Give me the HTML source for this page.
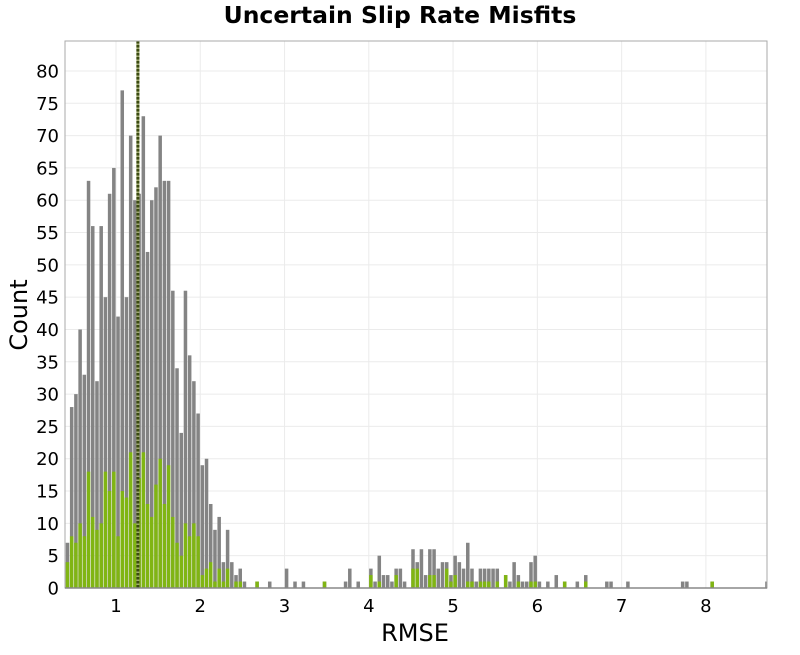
<!DOCTYPE html>
<html><head><meta charset="utf-8"><style>
body{margin:0;background:#fff;}
svg text{font-family:"DejaVu Sans","Liberation Sans",sans-serif;}
</style></head><body>
<svg id="chart" width="800" height="650" xmlns="http://www.w3.org/2000/svg">
<rect x="0" y="0" width="800" height="650" fill="#fff"/>
<text x="400" y="23" text-anchor="middle" font-size="23.5" font-weight="bold" fill="#000">Uncertain Slip Rate Misfits</text>
<g id="grid"></g>
<g id="bars"></g>
<g id="axes"></g>
<text x="415" y="641" text-anchor="middle" font-size="24" fill="#000">RMSE</text>
<text transform="translate(27,315) rotate(-90)" text-anchor="middle" font-size="24" fill="#000">Count</text>
</svg>
<script>
const binStart = 0.40, binWidth = 0.05;
const grayBins = [0,1,2,3,4,5,6,7,8,9,10,11,12,13,14,15,16,17,18,19,20,21,22,23,24,25,26,27,28,29,30,31,32,33,34,35,36,37,38,39,40,41,42,45,48,52,54,56,61,66,67,69,72,73,74,75,76,77,78,79,80,82,83,84,85,86,87,88,89,90,91,92,93,94,95,96,97,98,99,100,101,102,104,105,106,107,108,109,110,111,112,114,116,118,121,123,128,129,133,146,147,153,166];
const grayCounts = [7,28,30,40,33,63,56,32,56,45,61,65,42,77,45,70,60,61,73,52,60,62,70,63,63,46,34,24,46,36,32,27,19,20,13,9,11,4,9,4,2,3,1,1,1,3,1,1,1,1,3,1,3,1,5,2,2,1,3,3,1,6,4,6,2,6,6,3,4,4,2,5,4,3,7,3,1,3,3,3,3,3,2,1,4,2,1,1,4,5,1,1,2,1,1,2,1,1,1,1,1,1,1];
const greenBins = [0,1,2,3,4,5,6,7,8,9,10,11,12,13,14,15,16,17,18,19,20,21,22,23,24,25,26,27,28,29,30,31,32,33,34,35,36,37,38,40,41,45,61,72,74,78,82,83,86,87,90,91,92,95,96,98,99,100,102,104,107,110,111,118,123,153];
const greenCounts = [4,8,7,10,8,18,11,9,10,18,15,18,8,15,14,21,10,17,21,13,11,16,20,13,19,11,7,5,10,8,10,8,2,3,4,1,3,1,3,1,1,1,1,2,1,2,3,3,2,2,3,1,2,1,1,1,1,1,1,2,1,1,1,1,1,1];
const meanRmse = 1.26;
const xTicks = [1,2,3,4,5,6,7,8];
const yTicks = [0,5,10,15,20,25,30,35,40,45,50,55,60,65,70,75,80];

const L=65,R=767,T=41,B=588;
const xMin=0.395,xMax=8.725,yMax=84.64;
const xs=v=>L+(v-xMin)/(xMax-xMin)*(R-L);
const ys=v=>B-v/yMax*(B-T);
const NS="http://www.w3.org/2000/svg";
function mk(tag,attrs,parent){const e=document.createElementNS(NS,tag);for(const k in attrs)e.setAttribute(k,attrs[k]);parent.appendChild(e);return e;}
const grid=document.getElementById('grid'),bars=document.getElementById('bars'),axes=document.getElementById('axes');
mk('rect',{x:L,y:T,width:R-L,height:B-T,fill:'#fff'},grid);
yTicks.forEach(t=>{
  const y=ys(t);
  const g=mk('line',{x1:L,x2:R,y1:y,y2:y,stroke:'#ebebeb','stroke-width':1},grid);
  
  
  const tx=mk('text',{x:L-6,y:y+6.5,'text-anchor':'end','font-size':18,fill:'#000'},axes);
  tx.textContent=t;
  
  
});
xTicks.forEach(t=>{
  const x=xs(t);
  const g=mk('line',{x1:x,x2:x,y1:T,y2:B,stroke:'#ebebeb','stroke-width':1},grid);
  
  
  const tx=mk('text',{x:x,y:B+24,'text-anchor':'middle','font-size':18,fill:'#000'},axes);
  tx.textContent=t;
  
  
});
const clip=mk('clipPath',{id:'pc'},bars);mk('rect',{x:L,y:T,width:R-L,height:B-T},clip);
const bg=mk('g',{'clip-path':'url(#pc)'},bars);
function drawBars(bins,counts,color,name){
  bins.forEach((b,i)=>{
    const x0=xs(binStart+b*binWidth),x1=xs(binStart+(b+1)*binWidth);
    const r=mk('rect',{x:x0+0.3,y:ys(counts[i]),width:Math.max(0.5,x1-x0-0.7),height:B-ys(counts[i]),fill:color},bg);
    
    
  });
}
drawBars(grayBins,grayCounts,'#848484','gray-bar');
drawBars(greenBins,greenCounts,'#80b513','green-bar');
const mx=xs(meanRmse);
const l1=mk('line',{x1:mx,x2:mx,y1:T,y2:B,stroke:'#a0aa70','stroke-width':3},bg);


const l2=mk('line',{x1:mx,x2:mx,y1:T,y2:B,stroke:'#3a4a10','stroke-width':3,'stroke-dasharray':'2.5,1.5'},bg);


const fr=mk('rect',{x:L,y:T,width:R-L,height:B-T,fill:'none',stroke:'#aaa','stroke-width':1},axes);


const ax=mk('line',{x1:L,x2:R,y1:B,y2:B,stroke:'#888','stroke-width':1.5},axes);


</script>
</body></html>
